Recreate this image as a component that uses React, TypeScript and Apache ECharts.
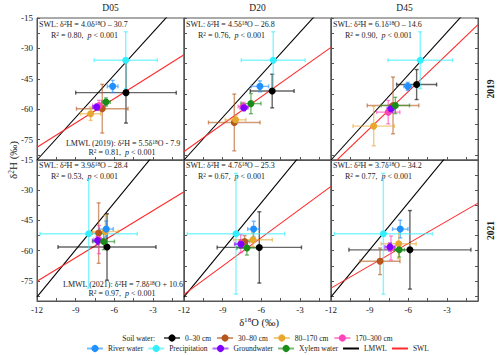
import React, { useEffect, useRef } from 'react';
import * as echarts from 'echarts';

const panelNames = ['D05', 'D20', 'D45'];
const yearNames = ['2019', '2021'];
const categories = ['0–30 cm', '30–80 cm', '80–170 cm', '170–300 cm', 'River water', 'Precipitation', 'Groundwater', 'Xylem water'];
const catColors = ['#000000', '#b5561c', '#e8a82e', '#ff44bb', '#1e90ff', '#33eeff', '#7f00ff', '#1a8c1a'];

// rows in category order: [δ18O, δ2H, δ18O error, δ2H error]
const d2019_D05 = [
  [-5.1, -51.8, 3.9, 15],
  [-6.94, -59.7, 2.0, 12],
  [-7.84, -62.2, 0.78, 3.3],
  [-7.19, -58.1, 0.5, 2.5],
  [-6.13, -48.7, 0.41, 3],
  [-5.12, -35.8, 2.45, 14],
  [-7.37, -58.9, 0.3, 1.5],
  [-6.65, -56.4, 0.33, 2],
];
const d2019_D20 = [
  [-5.16, -51.0, 1.7, 8.3],
  [-8.1, -66.5, 2.0, 14],
  [-8.0, -65.2, 0.8, 2],
  [-7.4, -58.6, 0.4, 2],
  [-6.11, -48.7, 0.67, 2.7],
  [-5.08, -35.8, 2.48, 14],
  [-7.35, -59.2, 0.3, 1.5],
  [-6.81, -57.2, 0.78, 5],
];
const d2019_D45 = [
  [-5.36, -47.8, 1.55, 7.4],
  [-7.19, -58.1, 2.0, 14],
  [-8.69, -68.3, 1.6, 9.7],
  [-7.56, -61.4, 0.9, 5.8],
  [-6.05, -48.7, 0.3, 2],
  [-5.08, -35.8, 2.5, 14],
  [-7.35, -59.7, 0.3, 2],
  [-7.01, -58.1, 1.1, 4],
];
const d2021_D05 = [
  [-6.57, -58.2, 3.8, 16.5],
  [-7.22, -51.3, 0.5, 15],
  [-6.7, -50.5, 1.0, 8],
  [-7.2, -54.5, 0.4, 7],
  [-6.63, -49.3, 0.54, 4],
  [-7.99, -51.6, 3.77, 27],
  [-7.3, -55.0, 0.4, 2],
  [-6.83, -55.5, 0.84, 4],
];
const d2021_D20 = [
  [-6.16, -58.4, 3.27, 17.7],
  [-7.3, -55.5, 0.4, 3],
  [-6.65, -54.6, 1.5, 3.5],
  [-7.6, -56.5, 0.4, 4.5],
  [-6.6, -49.3, 0.46, 3.9],
  [-7.97, -51.6, 3.78, 30],
  [-7.58, -56.8, 0.5, 2],
  [-7.12, -58.7, 0.78, 3.5],
];
const d2021_D45 = [
  [-5.88, -59.6, 4.73, 19.5],
  [-8.2, -65.3, 1.55, 6.6],
  [-6.75, -56.6, 1.36, 7.4],
  [-7.35, -58.7, 0.3, 6],
  [-6.63, -49.3, 0.6, 4.4],
  [-7.94, -51.6, 3.8, 30],
  [-7.43, -58.2, 0.39, 2],
  [-6.71, -59.6, 0.4, 3.6],
];
const panelData = [
  [d2019_D05, d2019_D20, d2019_D45],
  [d2021_D05, d2021_D20, d2021_D45],
];

const lmwlSlope = [7.0, 7.8];
const lmwlIntercept = [-1.0, 10.6];
const lmwlEqSlope = ['5.5', '7.8'];
const lmwlEqIntercept = ['- 7.9', '+ 10.6'];
const lmwlR2 = ['0.81', '0.97'];
const swlSlope = [[4.0, 4.5, 6.1], [3.9, 4.7, 3.7]];
const swlIntercept = [[-30.7, -26.8, -14.6], [-28.4, -25.3, -34.2]];
const swlR2 = [['0.80', '0.76', '0.90'], ['0.53', '0.67', '0.77']];

const xLabelValues = [-12, -9, -6, -3];
const xTickValues = [-12, -10.5, -9, -7.5, -6, -4.5, -3, -1.5];
const yLabelValues = [-75, -60, -45, -30, -15];
const yTickValues = [-82.5, -75, -67.5, -60, -52.5, -45, -37.5, -30, -22.5, -15];
const X_MIN = -12;
const X_MAX = -0.6;
const Y_MIN = -85;
const Y_MAX = -15;

const FONT = "'Liberation Serif', 'Times New Roman', serif";
const TXT = '#1a1a1a';
const AXIS = '#555';

const COL_LEFT = [37, 184, 331];
const COL_W = 147;
const ROW_TOP = [18, 160];
const ROW_H = [142, 141];

function richStyles(size: number) {
  return {
    t: { fontSize: size, fontFamily: FONT, fill: TXT, color: TXT },
    s: { fontSize: size * 0.68, fontFamily: FONT, fill: TXT, color: TXT, verticalAlign: 'top' },
    i: { fontSize: size, fontFamily: FONT, fill: TXT, color: TXT, fontStyle: 'italic' },
  };
}

function textEl(x: number, y: number, text: string, size: number, align: string, extra: any = {}) {
  return {
    type: 'text',
    x,
    y,
    rotation: extra.rotation || 0,
    style: {
      text,
      rich: richStyles(size),
      fontSize: size,
      fontFamily: FONT,
      fontWeight: extra.bold ? 'bold' : 'normal',
      fill: TXT,
      align,
      verticalAlign: 'middle',
      textAlign: align,
      textVerticalAlign: 'middle',
    },
  };
}

export default function App() {
  const ref = useRef<HTMLDivElement>(null);
  useEffect(() => {
    if (!ref.current) return;
    const chart = echarts.init(ref.current, undefined, { renderer: 'svg' });
    const grids: any[] = [];
    const xAxes: any[] = [];
    const yAxes: any[] = [];
    const series: any[] = [];
    const graphics: any[] = [];

    for (let r = 0; r < 2; r++) {
      for (let c = 0; c < 3; c++) {
        const gi = grids.length;
        grids.push({
          left: COL_LEFT[c], top: ROW_TOP[r], width: COL_W, height: ROW_H[r],
          show: true, borderColor: AXIS, borderWidth: 1, backgroundColor: 'transparent',
        });
        const xi = xAxes.length;
        xAxes.push({
          gridIndex: gi, type: 'value', min: X_MIN, max: X_MAX,
          axisLine: { show: true, onZero: false, lineStyle: { color: AXIS, width: 1 } },
          axisTick: { show: true, inside: true, length: 3, customValues: xTickValues, lineStyle: { color: AXIS } },
          axisLabel: { show: r === 1, customValues: xLabelValues, fontSize: 9, fontFamily: FONT, color: TXT, margin: 4 },
          splitLine: { show: false },
        });
        const yi = yAxes.length;
        yAxes.push({
          gridIndex: gi, type: 'value', min: Y_MIN, max: Y_MAX,
          axisLine: { show: true, onZero: false, lineStyle: { color: AXIS, width: 1 } },
          axisTick: { show: true, inside: true, length: 3, customValues: yTickValues, lineStyle: { color: AXIS } },
          axisLabel: { show: c === 0, customValues: yLabelValues, fontSize: 9, fontFamily: FONT, color: TXT, margin: 4 },
          splitLine: { show: false },
        });
        if (c === 2) {
          yAxes.push({
            gridIndex: gi, type: 'value', min: Y_MIN, max: Y_MAX, position: 'right',
            axisLine: { show: true, onZero: false, lineStyle: { color: AXIS, width: 1 } },
            axisTick: { show: true, inside: true, length: 3, customValues: yTickValues, lineStyle: { color: AXIS } },
            axisLabel: { show: false },
            splitLine: { show: false },
          });
        }

        // regression lines
        const ls = lmwlSlope[r], lb = lmwlIntercept[r];
        series.push({
          type: 'line', name: 'LMWL', xAxisIndex: xi, yAxisIndex: yi, clip: true,
          symbol: 'none', silent: true, z: 1,
          lineStyle: { color: '#000', width: 1.1 },
          data: [[X_MIN, ls * X_MIN + lb], [X_MAX, ls * X_MAX + lb]],
        });
        const ss = swlSlope[r][c], sb = swlIntercept[r][c];
        series.push({
          type: 'line', name: 'SWL', xAxisIndex: xi, yAxisIndex: yi, clip: true,
          symbol: 'none', silent: true, z: 1,
          lineStyle: { color: '#ff2a2a', width: 1.1 },
          data: [[X_MIN, ss * X_MIN + sb], [X_MAX, ss * X_MAX + sb]],
        });

        const rows = panelData[r][c];
        series.push({
          type: 'custom', name: 'err' + gi, xAxisIndex: xi, yAxisIndex: yi, z: 2, silent: true,
          encode: { x: 0, y: 1 },
          data: rows.map((d, i) => [d[0], d[1], d[2], d[3], i]),
          renderItem: (params: any, api: any) => {
            const x = api.value(0), y = api.value(1), xe = api.value(2), ye = api.value(3);
            const col = catColors[api.value(4)];
            const lp = api.coord([x - xe, y]);
            const rp = api.coord([x + xe, y]);
            const tp = api.coord([x, y + ye]);
            const bp = api.coord([x, y - ye]);
            const cap = 2;
            const style = { stroke: col, lineWidth: 1.4, opacity: 0.6 };
            return {
              type: 'group',
              children: [
                { type: 'line', shape: { x1: lp[0], y1: lp[1], x2: rp[0], y2: rp[1] }, style },
                { type: 'line', shape: { x1: tp[0], y1: tp[1], x2: bp[0], y2: bp[1] }, style },
                { type: 'line', shape: { x1: lp[0], y1: lp[1] - cap, x2: lp[0], y2: lp[1] + cap }, style },
                { type: 'line', shape: { x1: rp[0], y1: rp[1] - cap, x2: rp[0], y2: rp[1] + cap }, style },
                { type: 'line', shape: { x1: tp[0] - cap, y1: tp[1], x2: tp[0] + cap, y2: tp[1] }, style },
                { type: 'line', shape: { x1: bp[0] - cap, y1: bp[1], x2: bp[0] + cap, y2: bp[1] }, style },
              ],
            };
          },
        });
        series.push({
          type: 'scatter', name: 'pts' + gi, xAxisIndex: xi, yAxisIndex: yi, z: 3, silent: true,
          symbol: 'circle', symbolSize: 7,
          data: rows.map((d, i) => ({ value: [d[0], d[1]], itemStyle: { color: catColors[i], opacity: 1 } })),
        });

        // SWL annotation
        graphics.push(textEl(COL_LEFT[c] + 2, ROW_TOP[r] + (r === 0 ? 6.5 : 5.5),
          `{t|SWL: δ}{s|2}{t|H = ${ss.toFixed(1)}δ}{s|18}{t|O – ${Math.abs(sb).toFixed(1)}}`, 8, 'left'));
        graphics.push(textEl(COL_LEFT[c] + 14, ROW_TOP[r] + (r === 0 ? 17.5 : 16.7),
          `{t|R}{s|2}{t| = ${swlR2[r][c]},  }{i|p}{t| < 0.001}`, 8, 'left'));
      }
      // LMWL annotation in first panel
      const bottom = ROW_TOP[r] + ROW_H[r];
      graphics.push(textEl(123, bottom - 16.7,
        `{t|LMWL (${yearNames[r]}): δ}{s|2}{t|H = ${lmwlEqSlope[r]}δ}{s|18}{t|O ${lmwlEqIntercept[r]}}`, 8, 'center'));
      graphics.push(textEl(122, bottom - 7.5, `{t|R}{s|2}{t| = ${lmwlR2[r]},  }{i|p}{t| < 0.001}`, 8, 'center'));
      // year label
      graphics.push(textEl(491, ROW_TOP[r] + ROW_H[r] / 2, `${yearNames[r]}`, 9.5, 'center', { rotation: Math.PI / 2, bold: true }));
    }

    for (let c = 0; c < 3; c++) {
      graphics.push(textEl(COL_LEFT[c] + COL_W / 2, 8, panelNames[c], 9.5, 'center'));
    }
    graphics.push(textEl(13, 160, '{t|δ}{s|2}{t|H (‰)}', 11, 'center', { rotation: Math.PI / 2 }));
    graphics.push(textEl(259, 322, '{t|δ}{s|18}{t|O (‰)}', 10.5, 'center'));
    graphics.push(textEl(155, 338.7, 'Soil water:', 7.5, 'right'));

    // legend-only series
    categories.forEach((name, i) => {
      series.push({
        type: 'line', name, xAxisIndex: 0, yAxisIndex: 0, data: [],
        symbol: 'circle', symbolSize: 7,
        itemStyle: { color: catColors[i] },
        lineStyle: { color: catColors[i], width: 1.5, opacity: 0.6 },
      });
    });

    const legendText = { fontSize: 7.5, fontFamily: FONT, color: TXT };
    chart.setOption({
      animation: false,
      backgroundColor: '#fff',
      grid: grids,
      xAxis: xAxes,
      yAxis: yAxes,
      series,
      legend: [
        {
          data: categories.slice(0, 4), left: 163, top: 334, padding: 0,
          itemWidth: 16, itemHeight: 9, itemGap: 5, selectedMode: false, textStyle: legendText,
        },
        {
          data: [
            ...categories.slice(4),
            { name: 'LMWL', itemStyle: { opacity: 0 } },
            { name: 'SWL', itemStyle: { opacity: 0 } },
          ],
          left: 86, top: 344.5, padding: 0,
          itemWidth: 16, itemHeight: 9, itemGap: 4, selectedMode: false, textStyle: legendText,
        },
      ],
      graphic: { elements: graphics },
    });
    return () => chart.dispose();
  }, []);
  return (
    <div
      ref={ref}
      style={{ position: 'fixed', left: 0, top: 0, width: 500, height: 355, background: '#fff' }}
    />
  );
}
